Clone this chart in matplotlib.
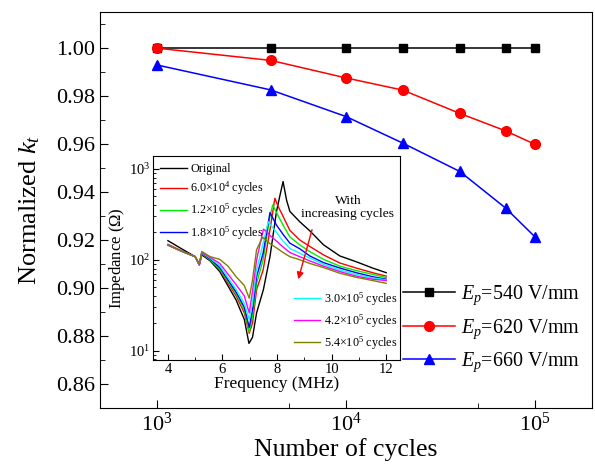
import matplotlib
matplotlib.use('Agg')
import matplotlib.pyplot as plt
from matplotlib.ticker import LogLocator, MultipleLocator, NullFormatter

plt.rcParams['font.family'] = ['Liberation Serif', 'DejaVu Serif']
plt.rcParams['mathtext.fontset'] = 'custom'
plt.rcParams['mathtext.rm'] = 'Liberation Serif'
plt.rcParams['mathtext.it'] = 'Liberation Serif:italic'
plt.rcParams['xtick.direction'] = 'in'
plt.rcParams['ytick.direction'] = 'in'

# main data: normalized kt vs number of cycles
cycles = [1000, 4000, 10000, 20000, 40000, 70000, 100000]
kt_540 = [1.000, 1.000, 1.000, 1.000, 1.000, 1.000, 1.000]
kt_620 = [1.000, 0.9949, 0.9876, 0.9825, 0.9728, 0.9655, 0.9599]
kt_660 = [0.9930, 0.9826, 0.9715, 0.9604, 0.9486, 0.9333, 0.9213]
main_labels = ['$E_p$=540 V/mm', '$E_p$=620 V/mm', '$E_p$=660 V/mm']

# inset data: impedance spectra (MHz, ohm)
f_orig = [4.0, 4.5, 5.0, 5.15, 5.24, 5.55, 5.9, 6.5, 6.8, 6.97, 7.1, 7.25, 7.5, 7.74,
          7.98, 8.1, 8.22, 8.35, 8.47, 8.83, 9.2, 9.7, 10.3, 10.9, 11.5, 12.0]
z_orig = [162, 132, 108, 88, 113, 97, 74, 36, 22, 12, 14, 26, 47, 108,
          340, 500, 725, 450, 340, 262, 208, 146, 110, 95, 81, 72]
f_60k = [4.0, 4.5, 5.0, 5.15, 5.24, 5.55, 5.9, 6.5, 6.8, 6.98, 7.1, 7.25, 7.49, 7.74,
         7.92, 8.05, 8.22, 8.47, 8.83, 9.2, 9.7, 10.3, 10.9, 11.5, 12.0]
z_60k = [148, 125, 108, 88, 116, 99, 77, 40, 26, 15.5, 20, 47, 77, 213,
         475, 380, 300, 210, 165, 140, 113, 92, 81, 72, 66]
f_120k = [4.0, 4.5, 5.0, 5.15, 5.24, 5.55, 5.9, 6.5, 6.8, 6.98, 7.1, 7.25, 7.49, 7.74,
          7.84, 7.98, 8.22, 8.47, 8.83, 9.2, 9.7, 10.3, 10.9, 11.5, 12.0]
z_120k = [145, 124, 108, 88, 117, 100, 79, 42, 28, 16, 24, 55, 100, 298,
          400, 330, 240, 178, 146, 123, 101, 85, 76, 69, 63.6]
f_180k = [4.0, 4.5, 5.0, 5.15, 5.24, 5.55, 5.9, 6.5, 6.8, 6.98, 7.1, 7.25, 7.49, 7.74,
          7.98, 8.22, 8.47, 8.83, 9.2, 9.7, 10.3, 10.9, 11.5, 12.0]
z_180k = [145, 124, 108, 88, 118, 102, 82, 44, 30, 18, 28, 65, 118, 330,
          240, 190, 152, 132, 110, 93, 81, 72, 65, 61]
f_300k = [4.0, 4.5, 5.0, 5.15, 5.24, 5.55, 5.9, 6.5, 6.8, 6.98, 7.1, 7.25, 7.49, 7.68,
          7.74, 7.98, 8.22, 8.47, 8.83, 9.2, 9.7, 10.3, 10.9, 11.5, 12.0]
z_300k = [145, 124, 108, 88, 119, 104, 86, 47, 33, 22, 34, 77, 152, 263,
          245, 200, 160, 133, 118, 104, 89, 77, 69, 63, 60]
f_420k = [4.0, 4.5, 5.0, 5.15, 5.24, 5.55, 5.9, 6.5, 6.8, 6.98, 7.1, 7.25, 7.5, 7.62,
          7.74, 7.98, 8.22, 8.47, 8.83, 9.2, 9.7, 10.3, 10.9, 11.5, 12.0]
z_420k = [145, 124, 108, 88, 120, 106, 91, 53, 40, 26, 45, 100, 217, 205,
          185, 160, 138, 120, 108, 97, 85, 74, 66, 61, 59]
f_540k = [4.0, 4.5, 5.0, 5.15, 5.24, 5.55, 5.9, 6.2, 6.5, 6.8, 6.98, 7.1, 7.25, 7.47,
          7.74, 7.98, 8.22, 8.47, 8.83, 9.2, 9.7, 10.3, 10.9, 11.5, 12.0]
z_540k = [145, 124, 108, 90, 123, 108, 101, 85, 65, 52, 37.7, 60, 129, 177,
          150, 135, 120, 108, 100, 91, 82, 71, 64, 59, 55]
inset_labels = ['Original', r'6.0$\times$10$^4$ cycles', r'1.2$\times$10$^5$ cycles',
                r'1.8$\times$10$^5$ cycles', r'3.0$\times$10$^5$ cycles',
                r'4.2$\times$10$^5$ cycles', r'5.4$\times$10$^5$ cycles']

fig = plt.figure(figsize=(5.95, 4.68), dpi=100)
ax = fig.add_axes([0.168, 0.128, 0.827, 0.846])

ax.plot(cycles, kt_540, '-s', color='black', ms=5.5, lw=1.1, label=main_labels[0])
ax.plot(cycles, kt_620, '-o', color='red', ms=7, lw=1.1, label=main_labels[1])
ax.plot(cycles, kt_660, '-^', color='blue', ms=7.5, lw=1.1, label=main_labels[2])

ax.set_xscale('log')
ax.set_xlim(500, 2e5)
ax.set_ylim(0.85, 1.015)
ax.xaxis.set_minor_locator(LogLocator(base=10, subs=[5.0]))
ax.xaxis.set_minor_formatter(NullFormatter())
ax.yaxis.set_major_locator(MultipleLocator(0.02))
ax.yaxis.set_minor_locator(MultipleLocator(0.01))
ax.yaxis.set_major_formatter(matplotlib.ticker.FormatStrFormatter('%.2f'))
ax.tick_params(which='major', length=6, labelsize=16)
ax.tick_params(which='minor', length=3.5)
ax.set_xlabel('Number of cycles', fontsize=18.5, labelpad=1)
ax.set_ylabel('Normalized $k_t$', fontsize=19, labelpad=10)

ax.legend(loc='center left', bbox_to_anchor=(0.6, 0.2), frameon=False, fontsize=14.4,
          handlelength=2.6, handletextpad=0.3, labelspacing=0.5, borderaxespad=0)

# inset
ins = fig.add_axes([0.257, 0.231, 0.415, 0.436])
cols = ['black', 'red', '#00ee00', 'blue', 'cyan', 'magenta', '#808000']
fs = [f_orig, f_60k, f_120k, f_180k, f_300k, f_420k, f_540k]
zs = [z_orig, z_60k, z_120k, z_180k, z_300k, z_420k, z_540k]
lines = []
for f, z, c, lab in zip(fs, zs, cols, inset_labels):
    ln, = ins.plot(f, z, color=c, lw=1, label=lab)
    lines.append(ln)
ins.set_yscale('log')
ins.set_xlim(3.45, 12.5)
ins.set_ylim(7.9, 1390)
ins.xaxis.set_major_locator(MultipleLocator(2))
ins.xaxis.set_minor_locator(MultipleLocator(1))
ins.tick_params(which='major', length=4, labelsize=10.5, pad=2)
ins.tick_params(which='minor', length=2)
ins.set_xlabel('Frequency (MHz)', fontsize=12.5, labelpad=0)
ins.set_ylabel('Impedance ($\\Omega$)', fontsize=12, labelpad=1)

leg1 = ins.legend(lines[:4], inset_labels[:4], loc='upper left', bbox_to_anchor=(0.0, 1.0),
                  frameon=False, fontsize=8.7, handlelength=2.2, handletextpad=0.3,
                  labelspacing=0.38, borderaxespad=0.2)
ins.add_artist(leg1)
ins.legend(lines[4:], inset_labels[4:], loc='center left', bbox_to_anchor=(0.55, 0.19),
           frameon=False, fontsize=8.7, handlelength=2.2, handletextpad=0.3,
           labelspacing=0.38, borderaxespad=0)

ins.text(10.6, 377, 'With\nincreasing cycles', ha='center', va='center',
         fontsize=9.7, multialignment='center', linespacing=1.05)
ins.annotate('', xy=(8.75, 57), xytext=(9.31, 229),
             arrowprops=dict(arrowstyle='-|>', color='red', lw=1, mutation_scale=10))

fig.savefig('out.png', dpi=100)
